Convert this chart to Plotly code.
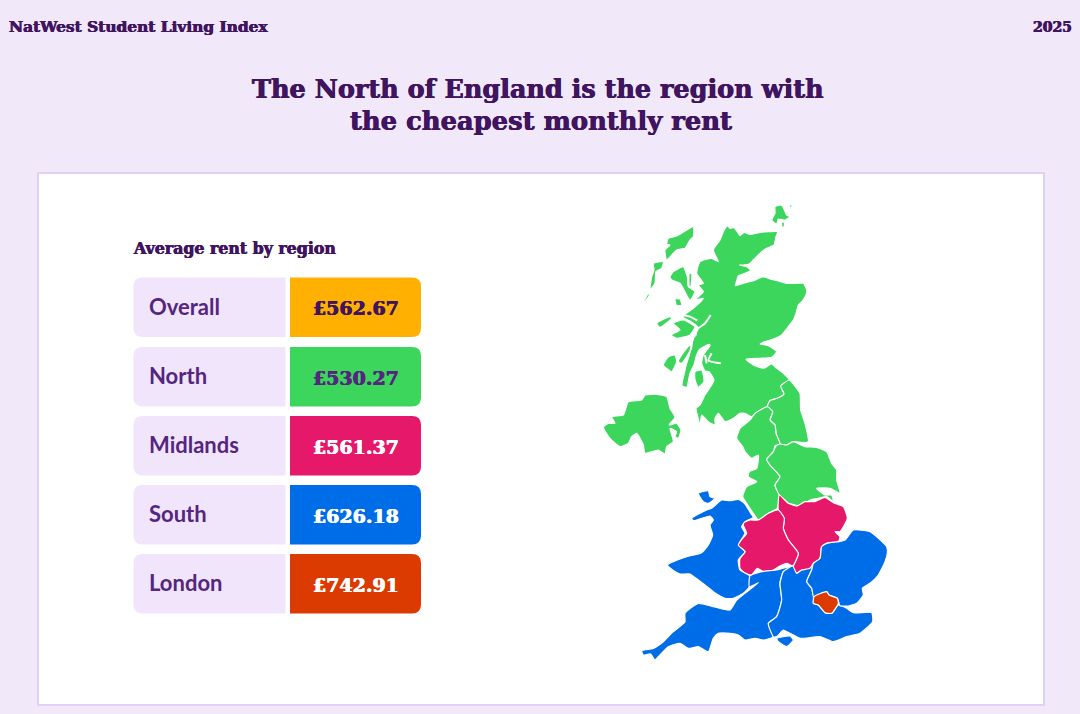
import plotly.graph_objects as go

# table values
regions = ["Overall", "North", "Midlands", "South", "London"]
rents = [562.67, 530.27, 561.37, 626.18, 742.91]
cell_colors = ["#FFB000", "#3BD65B", "#E5186A", "#006DE8", "#DB3A00"]
rent_text_colors = ["#40145F", "#55257F", "#FFFFFF", "#FFFFFF", "#FFFFFF"]

PURPLE = "#40145F"
LABEL = "#55257F"
BG = "#F1E8F9"
CARD = "#F0E5FB"
EDGE = "#E2CFF5"


def crop(ox, oy, pts):
    return [(ox + x / 3, oy + y / 3) for x, y in pts]


# Scotland and islands
scotland = [(412,93),(420,100),(432,98),(442,110),(450,122),(462,112),(480,118),(510,112),(535,110),(563,110),(558,125),(552,150),(530,160),(510,175),(490,195),(478,207),(460,210),(448,210),(470,215),(482,226),(465,235),(445,243),(440,258),(436,272),(470,262),(490,257),(520,245),(540,252),(565,258),(590,265),(615,265),(640,265),(650,285),(648,300),(637,318),(625,330),(618,355),(610,375),(595,395),(575,420),(550,432),(525,440),(510,447),(535,452),(560,470),(545,487),(510,490),(468,493),(490,510),(520,520),(545,507),(560,520),(580,535),(598,555),(572,573),(582,597),(562,610),(540,617),(532,635),(505,650),(485,665),(465,655),(450,655),(430,670),(405,680),(385,655),(375,670),(375,690),(355,680),(335,660),(330,690),(322,660),(318,640),(330,630),(345,600),(365,570),(372,555),(357,530),(345,528),(335,505),(340,480),(360,452),(358,448),(330,462),(320,480),(312,510),(300,535),(290,577),(276,572),(284,530),(290,505),(298,480),(303,460),(310,430),(318,420),(322,395),(310,385),(300,378),(280,368),(280,362),(310,340),(340,310),(315,315),(340,290),(325,270),(340,265),(320,235),(330,200),(365,190),(385,200),(370,165),(390,135),(400,110)]
skye = [(240,245),(250,230),(280,215),(292,245),(295,275),(315,290),(300,315),(270,265),(245,255)]
raasay = [(298,235),(305,235),(302,275),(298,275)]
rum = [(255,312),(270,312),(275,330),(260,332)]
tiree = [(200,385),(240,365),(245,370),(210,397)]
mull = [(250,385),(280,375),(315,395),(300,420),(260,430),(243,420),(270,405)]
islay = [(220,510),(235,485),(255,480),(260,500),(245,530),(230,520)]
jura = [(265,500),(275,480),(300,450),(305,455),(290,485),(275,505)]
arran = [(315,530),(335,525),(342,560),(325,577),(315,555)]
lewis = [(235,130),(260,123),(310,95),(310,125),(300,135),(285,160),(260,165),(230,195),(225,165),(240,150),(230,147)]
harris = [(190,205),(220,200),(215,220),(198,230),(195,265),(180,285),(185,245),(192,225)]
barra = [(155,332),(175,295),(178,300),(165,320)]
orkney = [(555,35),(575,30),(590,60),(600,65),(585,75),(565,72),(560,88),(545,75),(555,55)]
orkney_small = [(575,82),(583,82),(582,97),(576,95)]
shetland = [(598,30),(606,30),(606,36),(599,36)]
# thin sea lochs, white lines across the land
loch_linnhe = [(362,360),(345,385),(325,400),(310,425),(302,465)]
loch_sunart = [(275,360),(300,365),(322,377)]
loch_long = [(365,475),(355,497),(393,505)]
loch_fyne = [(345,480),(350,505)]

northern_ireland = [(25,127),(40,115),(60,115),(50,95),(85,90),(100,50),(140,45),(150,30),(185,28),(215,35),(225,70),(240,97),(222,120),(245,115),(258,135),(250,160),(240,155),(245,140),(225,130),(235,170),(215,185),(210,207),(190,195),(150,205),(145,180),(125,145),(110,155),(100,175),(75,185),(45,160)]

north_east = [(298,30),(312,45),(330,70),(332,120),(345,160),(355,215),(345,218),(310,215),(290,225),(270,222),(258,190),(255,165),(240,150),(248,125),(232,110),(240,92),(262,85),(282,72),(272,48)]
north_west = [(232,110),(248,125),(240,150),(255,165),(258,190),(270,222),(255,228),(250,245),(230,268),(240,285),(270,320),(255,345),(268,375),(262,415),(235,430),(205,450),(190,430),(170,400),(158,380),(170,350),(200,335),(175,320),(178,305),(200,295),(205,255),(185,265),(165,245),(158,230),(140,205),(150,175),(180,150),(195,130)]
yorkshire = [(258,228),(270,222),(290,225),(310,215),(345,230),(380,232),(410,245),(425,280),(440,300),(440,330),(450,370),(420,355),(380,355),(405,375),(425,375),(430,395),(410,380),(385,385),(360,390),(335,410),(315,405),(295,400),(268,375),(255,345),(270,320),(240,285),(230,268),(250,245)]

east_midlands = [(148,15),(175,40),(200,48),(225,35),(255,35),(285,22),(310,38),(340,50),(352,85),(330,125),(315,125),(330,140),(325,155),(290,160),(275,170),(270,205),(240,235),(225,245),(215,240),(200,250),(188,235),(205,190),(175,150),(160,115),(163,85),(145,60)]
west_midlands = [(145,60),(163,85),(160,115),(175,150),(205,190),(188,228),(170,220),(150,228),(130,240),(100,245),(82,235),(65,255),(45,250),(30,235),(30,205),(45,185),(22,165),(38,145),(50,130),(38,100),(60,90),(85,90),(115,70)]

wales = [(245,235),(275,210),(300,212),(325,208),(345,222),(362,250),(370,262),(345,275),(335,290),(345,310),(325,345),(345,365),(325,390),(330,420),(360,438),(358,470),(340,490),(310,505),(285,505),(250,485),(225,465),(205,450),(180,432),(150,432),(128,420),(112,405),(130,395),(170,380),(215,368),(235,345),(248,315),(240,285),(250,270),(240,258),(190,272),(185,265),(230,240)]
anglesey = [(205,190),(235,182),(240,200),(255,205),(235,220),(220,215)]
south_west = [(360,438),(395,425),(440,420),(488,408),(460,425),(450,460),(455,510),(440,560),(415,580),(430,620),(400,630),(375,625),(345,630),(325,615),(300,610),(265,610),(250,625),(235,665),(205,650),(175,655),(150,640),(115,650),(85,680),(75,690),(62,672),(40,675),(35,662),(70,655),(100,635),(130,605),(155,585),(165,575),(165,550),(205,520),(250,530),(300,540),(320,510),(385,458),(358,470)]
south_east = [(488,408),(500,430),(515,420),(540,415),(550,400),(545,420),(530,455),(545,475),(552,505),(550,520),(565,525),(585,548),(605,550),(625,525),(650,535),(670,548),(725,548),(728,575),(690,610),(650,620),(610,635),(570,620),(510,625),(480,610),(460,600),(440,620),(430,620),(415,580),(440,560),(455,510),(450,460),(460,425)]
east_england = [(570,385),(575,350),(590,340),(625,335),(645,330),(670,300),(720,305),(770,350),(772,370),(765,395),(745,435),(720,460),(697,475),(700,495),(680,520),(655,528),(630,527),(622,505),(597,495),(590,485),(552,505),(545,475),(530,455),(545,420),(550,400)]
wight = [(440,625),(480,618),(490,630),(470,650),(445,635)]
london = [(552,500),(590,485),(597,495),(622,505),(625,520),(605,550),(585,548),(565,525),(550,520)]

map_regions = [
    ("Scotland", "North", [crop(590, 195, p) for p in [scotland, skye, raasay, rum, tiree, mull, islay, jura, arran, lewis, harris, barra, orkney, orkney_small, shetland]]),
    ("Northern Ireland", "North", [crop(595, 385, northern_ireland)]),
    ("North East", "North", [crop(690, 370, north_east)]),
    ("North West", "North", [crop(690, 370, north_west)]),
    ("Yorkshire", "North", [crop(690, 370, yorkshire)]),
    ("East Midlands", "Midlands", [crop(730, 490, east_midlands)]),
    ("West Midlands", "Midlands", [crop(730, 490, west_midlands)]),
    ("Wales", "South", [crop(630, 430, wales), crop(630, 430, anglesey)]),
    ("South West", "South", [crop(630, 430, south_west)]),
    ("South East", "South", [crop(630, 430, south_east), crop(630, 430, wight)]),
    ("East of England", "South", [crop(630, 430, east_england)]),
    ("London", "London", [crop(630, 430, london)]),
]

fig = go.Figure()

for name, group, parts in map_regions:
    xs, ys = [], []
    for part in parts:
        xs += [p[0] for p in part] + [part[0][0], None]
        ys += [p[1] for p in part] + [part[0][1], None]
    fig.add_trace(go.Scatter(
        x=xs, y=ys, name=name, mode="lines", fill="toself",
        fillcolor=cell_colors[regions.index(group)],
        line=dict(color="#FFFFFF", width=1.2, shape="spline", smoothing=0.5),
        hoverinfo="name", showlegend=False,
    ))

for loch in [loch_linnhe, loch_sunart, loch_long, loch_fyne]:
    pts = crop(590, 195, loch)
    fig.add_trace(go.Scatter(
        x=[p[0] for p in pts], y=[p[1] for p in pts], mode="lines",
        line=dict(color="#FFFFFF", width=2, shape="spline", smoothing=0.5),
        hoverinfo="skip", showlegend=False,
    ))


def rounded(x0, y0, x1, y1, left, right):
    # svg path of a box with only the left or the right corners rounded
    lr = 9 if left else 0
    rr = 9 if right else 0
    return (f"M{x0+lr},{y0} L{x1-rr},{y0} Q{x1},{y0} {x1},{y0+rr} L{x1},{y1-rr} Q{x1},{y1} {x1-rr},{y1} "
            f"L{x0+lr},{y1} Q{x0},{y1} {x0},{y1-lr} L{x0},{y0+lr} Q{x0},{y0} {x0+lr},{y0} Z")


shapes = [dict(type="rect", x0=38, x1=1044, y0=173, y1=705, fillcolor="#FFFFFF",
               line=dict(color=EDGE, width=2), layer="below")]
annotations = []


def label(x, y, text, size, color, family="DejaVu Serif", anchor="center", heavy=True):
    font = dict(family=family, size=size, color=color, weight=700)
    if heavy:
        # slab in the reference is heavier than DejaVu Serif Bold
        font["shadow"] = f"0.4px 0 0 {color}, -0.4px 0 0 {color}"
    annotations.append(dict(x=x, y=y, text=text, showarrow=False, xanchor=anchor, yanchor="middle", font=font))


row_tops = [277.5, 347, 416, 485, 554]
for i, region in enumerate(regions):
    top = row_tops[i]
    shapes.append(dict(type="path", path=rounded(133.5, top, 285.5, top + 59.5, True, False),
                       fillcolor=CARD, line=dict(width=0), layer="below"))
    shapes.append(dict(type="path", path=rounded(290, top, 421, top + 59.5, False, True),
                       fillcolor=cell_colors[i], line=dict(width=0), layer="below"))
    label(147, top + 28.5, region, 22, LABEL, family="Lato", anchor="left", heavy=False)
    label(355.5, top + 30.5, f"£{rents[i]:.2f}", 19, rent_text_colors[i])

label(7, 27, "NatWest Student Living Index", 15.4, PURPLE, anchor="left")
label(1074, 27, "2025", 14, PURPLE, anchor="right")
label(537.5, 89, "The North of England is the region with", 25.5, PURPLE)
label(541, 121, "the cheapest monthly rent", 25.8, PURPLE)
label(130.5, 248.5, "Average rent by region", 15.8, PURPLE, anchor="left")

fig.update_layout(
    width=1080, height=714,
    margin=dict(l=0, r=0, t=0, b=0),
    paper_bgcolor=BG, plot_bgcolor=BG,
    shapes=shapes, annotations=annotations,
    xaxis=dict(range=[0, 1080], visible=False, fixedrange=True),
    yaxis=dict(range=[714, 0], visible=False, fixedrange=True),
)

fig.write_html("out.html", config={"displayModeBar": False}, post_script="document.body.style.margin='0';")
